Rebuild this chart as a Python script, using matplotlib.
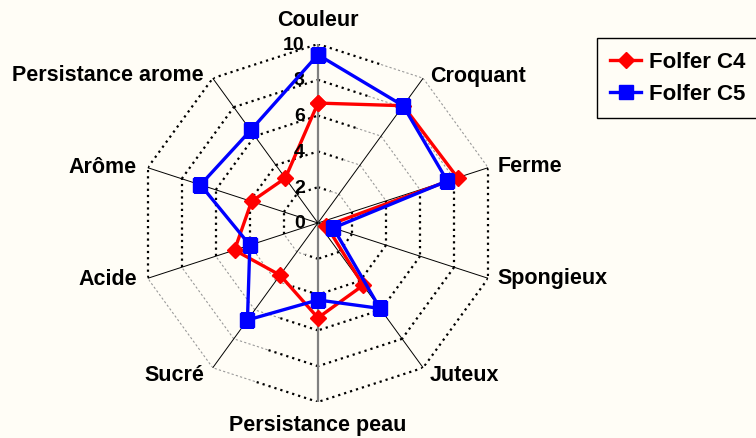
import numpy as np
import matplotlib
matplotlib.use("Agg")
import matplotlib.pyplot as plt
from matplotlib.lines import Line2D

plt.rcParams["font.family"] = ["Liberation Sans", "DejaVu Sans"]
plt.rcParams["font.weight"] = "bold"

categories = ["Couleur", "Croquant", "Ferme", "Spongieux", "Juteux",
              "Persistance peau", "Sucré", "Acide", "Arôme", "Persistance arome"]
c4 = [6.7, 8.1, 8.2, 0.5, 4.3, 5.3, 3.6, 4.9, 3.9, 3.1]
c5 = [9.4, 8.1, 7.6, 0.9, 5.9, 4.3, 6.7, 4.0, 6.9, 6.4]
series_names = ["Folfer C4", "Folfer C5"]
rings = [2, 4, 6, 8, 10]
tick_labels = ["0", "2", "4", "6", "8", "10"]

BG = "#FFFDF6"
n = len(categories)
theta = np.arange(n) * 2 * np.pi / n

fig = plt.figure(figsize=(7.56, 4.39), dpi=100, facecolor=BG)
ax = fig.add_axes([0.1838, 0.0820, 0.4735, 0.8155], projection="polar")
ax.set_theta_offset(np.pi / 2)
ax.set_theta_direction(-1)
ax.set_ylim(0, 10)
ax.axis("off")

# dotted decagon rings: some edges drawn black, some grey (as in the original)
black_frac = [0.6, 0, 1, 1, 1, 0.6, 0, 1, 1, 1]
for r in rings:
    for i in range(n):
        t0, t1 = theta[i], theta[(i + 1) % n] if i + 1 < n else 2 * np.pi
        p0 = np.array([r * np.sin(t0), r * np.cos(t0)])
        p1 = np.array([r * np.sin(t1), r * np.cos(t1)])
        f = black_frac[i]
        pm = p0 + f * (p1 - p0)
        for a, b, col, lw, ls in [(p0, pm, "black", 1.6, (0, (1, 1.8))),
                                  (pm, p1, "#9a9a9a", 0.8, (0, (2, 2)))]:
            if np.allclose(a, b):
                continue
            xs = np.array([a[0], b[0]]); ys = np.array([a[1], b[1]])
            ax.plot(np.arctan2(xs, ys), np.hypot(xs, ys), color=col,
                    lw=lw, ls=ls, zorder=1)

# spokes
for i, t in enumerate(theta):
    if i in (0, 5):
        ax.plot([t, t], [0, 10], color="#808080", lw=1.6, zorder=1.5)
    else:
        ax.plot([t, t], [0, 10], color="black", lw=0.7, zorder=1.5)

th = np.append(theta, theta[0])
ax.plot(th, c4 + c4[:1], color="#FF0000", lw=2.4, marker="D", ms=8,
        zorder=3, label=series_names[0])
ax.plot(th, c5 + c5[:1], color="#0000FF", lw=2.4, marker="s", ms=9.5,
        zorder=4, label=series_names[1])

# radial tick labels
for v, s in zip([0] + rings, tick_labels):
    ax.annotate(s, xy=(0, v), xytext=(-9.5, 0), textcoords="offset points",
                ha="right", va="center", fontsize=14, fontweight="bold")

# category labels
offsets = [(0, 18), (5, 2), (6.5, 1.5), (6.5, 0.5), (4.5, -5), (0, -16),
           (-6, -5), (-8, 0), (-8, 0.5), (-6.5, 3)]
for t, lab, (dx, dy) in zip(theta, categories, offsets):
    ha = "center" if dx == 0 else ("left" if dx > 0 else "right")
    ax.annotate(lab, xy=(t, 10), xytext=(dx, dy), textcoords="offset points",
                ha=ha, va="center", fontsize=15.5, fontweight="bold",
                annotation_clip=False)

handles = [Line2D([], [], color="#FF0000", lw=2.4, marker="D", ms=8),
           Line2D([], [], color="#0000FF", lw=2.4, marker="s", ms=9.5)]
leg = fig.legend(handles, series_names, loc="upper left",
                 bbox_to_anchor=(597 / 756, 1 - 39 / 439),
                 bbox_transform=fig.transFigure, frameon=True, fancybox=False,
                 edgecolor="black", facecolor=BG, framealpha=1, borderaxespad=0,
                 prop={"size": 16, "weight": "bold"}, handlelength=1.4,
                 labelspacing=0.5, borderpad=0.6, handletextpad=0.35)
leg.get_frame().set_linewidth(1.0)

fig.savefig("out.png", dpi=100, facecolor=BG)
